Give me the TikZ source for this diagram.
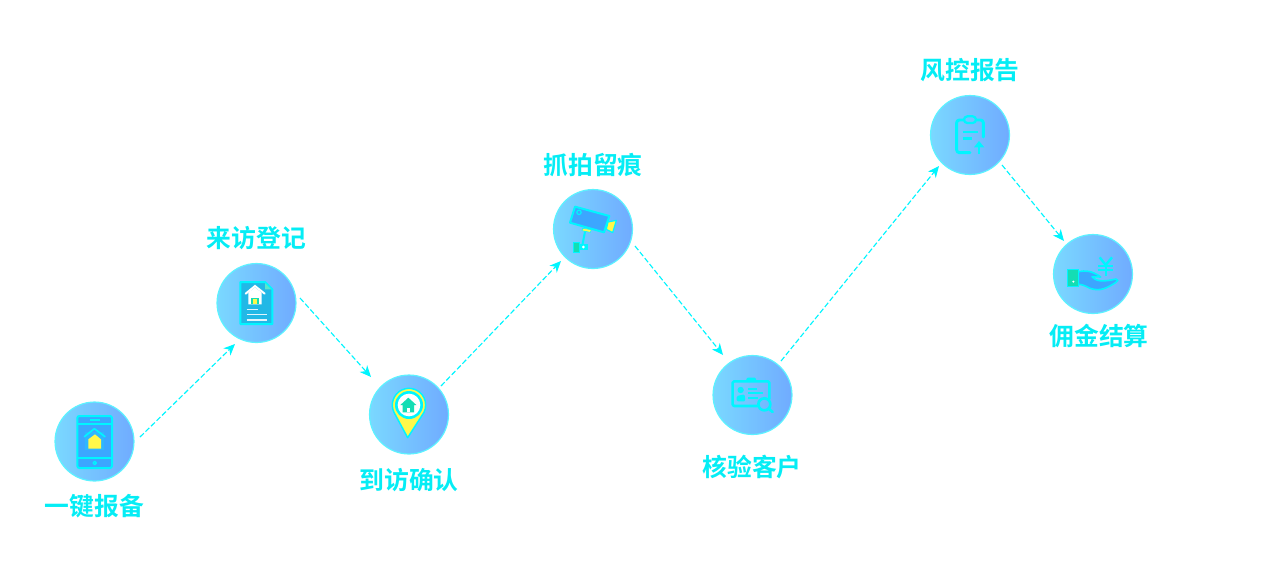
\documentclass[tikz,border=0pt]{standalone}
\usepackage{fontspec}
\setmainfont{Noto Sans CJK SC}[BoldFont={* Bold}]
\usetikzlibrary{arrows.meta}
\definecolor{cy}{HTML}{00F5FF}
\definecolor{txt}{HTML}{05EDF5}
\definecolor{ringc}{HTML}{5CF2FF}
\definecolor{cl}{HTML}{7AD8FF}
\definecolor{cr}{HTML}{70ABFF}
\definecolor{bl}{HTML}{3CA6FF}
\definecolor{yl}{HTML}{FFF84A}
\definecolor{gr}{HTML}{14DDB4}
\definecolor{dc}{HTML}{22B8E6}
\tikzset{
  bubble/.style={circle,draw=ringc,line width=.9pt,left color=cl,right color=cr,minimum size=59.2pt,inner sep=0pt},
  steplabel/.style={text=txt,font=\fontsize{18.6pt}{22pt}\selectfont\bfseries,inner sep=0pt},
  flow/.style={draw=cy,line width=.85pt,dash pattern=on 4pt off 1.8pt,-{Stealth[length=8.5pt,width=7.5pt,inset=2.6pt]}},
  zoomed/.style 2 args={shift={(#1,#2)},x=.25pt,y=-.25pt},
  ic/.style={draw=cy,line width=1.5pt,line join=round},
  icl/.style={draw=cy,line width=1.9pt,line cap=round,line join=round},
}
\begin{document}
\begin{tikzpicture}[x=.75pt,y=-.75pt]
\useasboundingbox (0,0) rectangle (1280,576);
\node[bubble] (c1) at (94.5,441.5) {};
\node[bubble] (c2) at (256.5,303) {};
\node[bubble] (c3) at (409,414.5) {};
\node[bubble] (c4) at (593,229) {};
\node[bubble] (c5) at (752.5,395) {};
\node[bubble] (c6) at (970,135) {};
\node[bubble] (c7) at (1093,274) {};
\node[steplabel] (t1) at (94.5,506) {一键报备};
\node[steplabel] (t2) at (256.5,238) {来访登记};
\node[steplabel] (t3) at (409,480) {到访确认};
\node[steplabel] (t4) at (593,165.5) {抓拍留痕};
\node[steplabel] (t5) at (752,467.5) {核验客户};
\node[steplabel] (t6) at (970,70) {风控报告};
\node[steplabel] (t7) at (1099,336) {佣金结算};
\draw[flow] ([shift={(45.5,-4.5)}]c1.center) -- ([shift={(-21.5,41)}]c2.center);
\draw[flow] ([shift={(43.5,-5)}]c2.center) -- ([shift={(-38,-37.5)}]c3.center);
\draw[flow] ([shift={(32,-28.5)}]c3.center) -- ([shift={(-32,32)}]c4.center);
\draw[flow] ([shift={(42,17)}]c4.center) -- ([shift={(-29.5,-40)}]c5.center);
\draw[flow] ([shift={(28.5,-34)}]c5.center) -- ([shift={(-31,31)}]c6.center);
\draw[flow] ([shift={(32,30)}]c6.center) -- ([shift={(-29,-33)}]c7.center);
% icon 1
\begin{scope}[zoomed={40}{390}]
\draw[ic,fill=bl,rounded corners=1.5pt] (112,78) rectangle (216,234);
\draw[ic,line width=1.2pt] (112,102) -- (218,102) (112,204) -- (216,204);
\draw[ic,line width=1.1pt] (149,90) -- (180,90);
\draw[ic,line width=1pt] (164,219) circle (5);
\fill[cy,opacity=.22] (136,127) rectangle (191,181);
\draw[icl,line width=1.2pt] (133,140) -- (163,116) -- (195,140);
\fill[yl] (145,176) -- (145,148) -- (165,133) -- (183,148) -- (183,176) -- cycle;
\end{scope}
% icon 2
\begin{scope}[zoomed={205}{255}]
\draw[ic,fill=dc] (106,81) -- (180,81) -- (202,103) -- (202,207) -- (106,207) -- cycle;
\fill[gr!70!white] (180,84) -- (199,103) -- (180,103) -- cycle;
\draw[white,line width=1.5pt,line cap=round] (122,116) -- (150,93) -- (179,116);
\fill[white] (130,113) -- (150,97) -- (170,113) -- (170,148) -- (130,148) -- cycle;
\fill[gr] (139,128) rectangle (161,148);
\fill[yl] (144,133) rectangle (156,148);
\draw[white!88!cyan,line width=1.1pt] (125,163) -- (160,163) (125,179) -- (185,179) (125,195) -- (185,195);
\end{scope}
% icon 3
\begin{scope}[zoomed={355}{365}]
\draw[draw=cy,fill=yl,line width=1.1pt,line join=round]
  (117,142) arc[start angle=154,end angle=386,radius=50] -- (158,218) -- cycle;
\fill[cy] (162,120) circle (42);
\fill[white] (162,120) circle (34);
\fill[gr] (136,120) -- (160,98) -- (184,120) -- (177,120) -- (177,142) -- (143,142) -- (143,120) -- cycle;
\fill[white] (155,128) rectangle (165,142);
\end{scope}
% icon 4
\begin{scope}[zoomed={540}{180}]
\draw[cy,line width=1.5pt] (136,150) -- (127,196);
\draw[ic,fill=bl] (105,80) -- (208,108) -- (192,157) -- (90,128) -- cycle;
\draw[cy,line width=.9pt] (117,97) circle (6.5);
\draw[draw=cy,fill=yl,line width=.9pt,line join=round] (204,126) -- (229,121) -- (218,158) -- (199,148) -- cycle;
\fill[yl,draw=cy,line width=.4pt] (128,145) -- (154,149) -- (151,157) -- (126,152) -- cycle;
\fill[cy] (116,193) rectangle (144,210);
\draw[draw=cy,fill=gr,line width=.9pt] (100,188) rectangle (118,217);
\fill[white] (130,201) circle (4.5);
\end{scope}
% icon 5
\begin{scope}[zoomed={700}{345}]
\fill[cy,rounded corners=1pt] (139,98) rectangle (168,110);
\draw[icl,rounded corners=1pt] (172,183) -- (98,183) -- (98,109) -- (208,109) -- (208,162);
\fill[cy] (122,135) circle (9.5);
\fill[cy,rounded corners=1pt] (110,169) -- (110,153) -- (134,148) -- (136,169) -- cycle;
\draw[cy,line width=1.5pt] (145,132) -- (170,132) (145,145) -- (188,145) (145,158) -- (175,158);
\draw[cy,line width=2pt] (193,178) circle (18);
\draw[cy,line width=2pt,line cap=round] (206,191) -- (218,201);
\end{scope}
% icon 6
\begin{scope}[zoomed={915}{85}]
\draw[icl,line width=2.2pt,rounded corners=2pt] (165,203) -- (125,203) -- (125,105) -- (145,105);
\draw[icl,line width=2.2pt,rounded corners=2pt] (185,105) -- (205,105) -- (205,156);
\draw[icl,line width=1.7pt,rounded corners=2.5pt] (147,94) rectangle (183,114);
\draw[cy,line width=2.1pt] (143,141) -- (188,141) (143,160) -- (170,160);
\draw[cy,line width=2.2pt] (192,207) -- (192,174);
\fill[cy] (177,187) -- (192,168) -- (208,187) -- cycle;
\end{scope}
% icon 7
\begin{scope}[zoomed={1035}{225}]
\draw[cy,line width=1.6pt] (212,118) -- (212,153) (190,122) -- (235,122) (190,136) -- (235,136);
\draw[cy,line width=1.8pt] (194,97) -- (212,120) -- (231,97);
\draw[ic,fill=bl,line width=1.2pt] (130,140) .. controls (150,136) and (170,136) .. (197,156)
  -- (171,155) .. controls (182,168) and (200,172) .. (243,162)
  .. controls (250,162) and (250,170) .. (243,172)
  .. controls (215,190) and (195,200) .. (165,190)
  .. controls (150,182) and (140,178) .. (130,178) -- cycle;
\draw[draw=cy,fill=gr,line width=1.2pt] (98,133) rectangle (130,185);
\fill[white] (115,170) circle (3.5);
\end{scope}
\end{tikzpicture}
\end{document}
